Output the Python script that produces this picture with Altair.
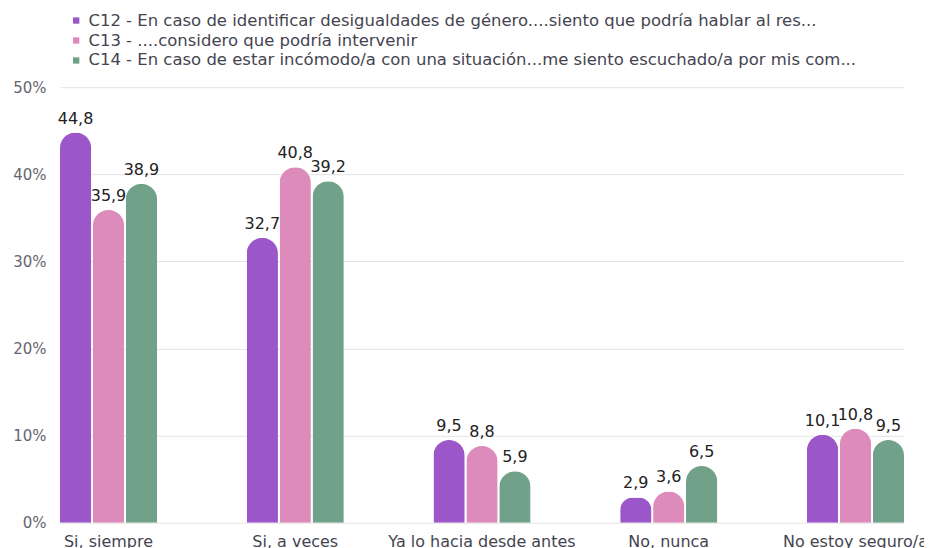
import altair as alt
import pandas as pd

categories = ["Si, siempre", "Si, a veces", "Ya lo hacia desde antes", "No, nunca", "No estoy seguro/a"]
series = [
    "C12 - En caso de identificar desigualdades de género....siento que podría hablar al res...",
    "C13 - ....considero que podría intervenir",
    "C14 - En caso de estar incómodo/a con una situación...me siento escuchado/a por mis com...",
]
colors = ["#9B56C9", "#DD8BBB", "#72A18A"]
c12 = [44.8, 32.7, 9.5, 2.9, 10.1]
c13 = [35.9, 40.8, 8.8, 3.6, 10.8]
c14 = [38.9, 39.2, 5.9, 6.5, 9.5]

rows = []
for s, vals in zip(series, [c12, c13, c14]):
    for c, v in zip(categories, vals):
        rows.append({"cat": c, "serie": s, "val": v, "lbl": f"{v:.1f}".replace(".", ",")})
df = pd.DataFrame(rows)

FONT = "DejaVu Sans"

x = alt.X("cat:N", sort=categories, title=None,
          scale=alt.Scale(paddingInner=0.48, paddingOuter=0),
          axis=alt.Axis(labelAngle=0, ticks=False, domain=False, labelPadding=11,
                        labelFontSize=16, labelColor="#444450", labelFont=FONT, labelLimit=300))
xo = alt.XOffset("serie:N", sort=series, scale=alt.Scale(paddingInner=0.05))

bars = alt.Chart(df).mark_bar(cornerRadiusTopLeft=16, cornerRadiusTopRight=16).encode(
    x=x,
    xOffset=xo,
    y=alt.Y("val:Q", title=None,
            scale=alt.Scale(domain=[0, 50], nice=False),
            axis=alt.Axis(values=[0, 10, 20, 30, 40, 50], labelExpr="datum.value + '%'",
                          ticks=False, domain=False, gridColor="#e3e3e3", labelPadding=14,
                          labelFontSize=15, labelColor="#666670", labelFont=FONT)),
    color=alt.Color("serie:N", sort=series, scale=alt.Scale(domain=series, range=colors),
                    legend=alt.Legend(title=None, orient="none", legendX=8, legendY=-75,
                                      symbolType="square", symbolSize=40, labelFontSize=16.5,
                                      labelFont=FONT, labelColor="#444450", labelLimit=900,
                                      rowPadding=3, symbolOffset=0)),
)

labels = alt.Chart(df).mark_text(baseline="bottom", dy=-6, fontSize=16, font=FONT, color="#222222").encode(
    x=alt.X("cat:N", sort=categories),
    xOffset=xo,
    y=alt.Y("val:Q"),
    text="lbl:N",
)

chart = alt.layer(bars, labels).properties(
    width=845, height=436,
    autosize=alt.AutoSizeParams(type="none"),
    padding={"left": 52, "top": 79, "right": 20, "bottom": 30},
).configure_view(stroke=None).configure_axisX(grid=False)

chart.save("out.html", embed_options={"renderer": "svg", "actions": False})
